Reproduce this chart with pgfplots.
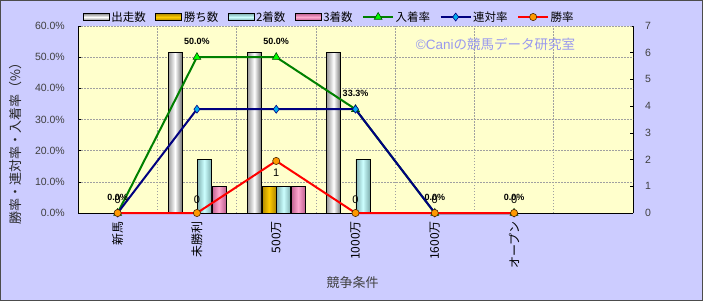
\documentclass[border=0pt]{standalone}
\usepackage{pgfplots}
\usepackage{pgfplotstable}
\pgfplotsset{compat=1.18}
\usepackage{fontspec}
\setmainfont{Liberation Sans}
\newfontfamily\jp{Noto Sans CJK JP}
\definecolor{bgout}{HTML}{CCCCFF}
\definecolor{bgin}{HTML}{FFFFCC}
\definecolor{wm}{HTML}{9999EE}
\definecolor{gold}{HTML}{FFCC00}
\definecolor{golddk}{HTML}{B08800}
\definecolor{aqua}{HTML}{CCFFFF}
\definecolor{aquadk}{HTML}{80B0B0}
\definecolor{pinkb}{HTML}{FFA8D0}
\definecolor{pinkdk}{HTML}{C06090}
\definecolor{lgreen}{HTML}{008000}
\definecolor{lnavy}{HTML}{000080}
\definecolor{mkorange}{HTML}{FF9900}
\definecolor{gridc}{HTML}{A0A0A0}
\definecolor{txt}{HTML}{404040}
\pgfplotsset{
  /pgf/number format/assume math mode=true,
  barleg/.style={legend image code/.code={\draw[##1] (0bp,-3.5bp) rectangle (26bp,3.5bp);}},
  lineleg/.style={legend image code/.code={\draw[mark repeat=2,mark phase=2,##1] plot coordinates {(0bp,0bp) (15bp,0bp) (30bp,0bp)};}},
  runsbar/.style={ybar, bar width=14bp, bar shift=-21.9bp, draw=black, line width=0.6bp,
    left color=black!40, right color=black!55, middle color=white},
  winsbar/.style={ybar, bar width=14bp, bar shift=-7.3bp, draw=black, line width=0.6bp,
    left color=golddk, right color=golddk, middle color=gold},
  secbar/.style={ybar, bar width=14bp, bar shift=7.3bp, draw=black, line width=0.6bp,
    left color=aquadk, right color=aquadk, middle color=aqua},
  thirdbar/.style={ybar, bar width=14bp, bar shift=21.9bp, draw=black, line width=0.6bp,
    left color=pinkdk, right color=pinkdk, middle color=pinkb},
}
\pgfplotstableread{
x runs wins second third
0 0 0 0 0
1 6 0 2 1
2 6 1 1 1
3 6 0 2 0
4 0 0 0 0
5 0 0 0 0
}\counts
\pgfplotstableread{
x win rentai nyuchaku
0 0 0 0
1 0 33.3 50.0
2 16.7 33.3 50.0
3 0 33.3 33.3
4 0 0 0
5 0 0 0
}\rates
\begin{document}
\begin{tikzpicture}[x=1bp,y=1bp]
\useasboundingbox (0,0) rectangle (703,301);
\fill[bgout] (0,0) rectangle (703,301);
\draw[black!70, line width=1bp] (0.5,0.5) rectangle (702.5,300.5);
% ---------- bars, right axis ----------
\begin{axis}[
  at={(78bp,88bp)}, anchor=south west, scale only axis,
  width=555bp, height=187bp,
  xmin=-0.5, xmax=6.5, ymin=0, ymax=7,
  axis background/.style={fill=bgin},
  axis x line*=bottom, axis y line*=right,
  axis line style={black, line width=0.8bp},
  xtick={0.5,1.5,...,5.5}, xticklabels={}, xmajorgrids,
  x tick style={draw=none},
  ytick={0,...,7},
  y tick style={black, line width=0.6bp},
  tick align=inside, major tick length=3bp,
  extra y ticks={1.16667,2.33333,3.5,4.66667,5.83333,7},
  extra y tick labels={},
  extra y tick style={grid=major, tick style={draw=none}},
  grid style={gridc, dash pattern=on 1.5bp off 1.5bp, line width=0.5bp},
  yticklabel style={font=\fontsize{10.5bp}{12bp}\selectfont, text=txt, anchor=west, inner sep=0pt, xshift=12bp},
]
\pgfplotsinvokeforeach{0,...,5}{
  \addplot[runsbar, forget plot, restrict x to domain=#1:#1] table[x=x,y=runs]{\counts};
  \addplot[winsbar, forget plot, restrict x to domain=#1:#1,
    nodes near coords,
    every node near coord/.append style={font=\fontsize{11bp}{12bp}\selectfont, text=black, anchor=south, inner sep=0pt, yshift=9bp}]
    table[x=x,y=wins]{\counts};
  \addplot[secbar, forget plot, restrict x to domain=#1:#1] table[x=x,y=second]{\counts};
  \addplot[thirdbar, forget plot, restrict x to domain=#1:#1] table[x=x,y=third]{\counts};
}
\node[text=wm, font=\jp\fontsize{13.5bp}{15bp}\selectfont] at (axis cs:4.765,6.33) {{\rmfamily ©Cani}の競馬データ研究室};
\node[rotate=90, anchor=center, font=\jp\fontsize{12.5bp}{14bp}\selectfont, text=black!85]
  at ([xshift=47bp]axis description cs:1,0.41) {出走数・勝ち数・2着数・3着数};
\end{axis}
% ---------- lines, left axis ----------
\begin{axis}[
  at={(78bp,88bp)}, anchor=south west, scale only axis,
  width=555bp, height=187bp,
  xmin=-0.5, xmax=6.5, ymin=0, ymax=60,
  axis x line*=bottom, axis y line*=left,
  axis line style={black, line width=0.8bp},
  xtick={0,...,5},
  xticklabels={新馬,未勝利,500万,1000万,1600万,オープン},
  x tick style={draw=none},
  xticklabel style={font=\jp\fontsize{12bp}{14bp}\selectfont, text=black, yshift=-8bp, rotate=90, anchor=east, inner sep=0pt},
  ytick={0,10,...,60},
  yticklabel={\pgfmathprintnumber[fixed,fixed zerofill,precision=1]{\tick}\%},
  yticklabel style={font=\fontsize{10.5bp}{12bp}\selectfont, text=txt, anchor=east, inner sep=0pt, xshift=-13bp},
  y tick style={black, line width=0.6bp},
  tick align=inside, major tick length=3bp,
  clip=false,
  legend columns=-1,
  legend cell align=left,
  legend style={at={(axis description cs:0.009,1.048)}, anchor=west, draw=none, fill=none,
    font=\jp\fontsize{11.5bp}{13bp}\selectfont, inner sep=0pt, nodes={inner sep=1.5bp},
    /tikz/every even column/.append style={column sep=8bp}},
]
\addlegendimage{barleg, draw=black, line width=0.8bp, top color=black!45, bottom color=black!45, middle color=white}
\addlegendentry{出走数}
\addlegendimage{barleg, draw=black, line width=0.8bp, top color=golddk, bottom color=golddk, middle color=gold}
\addlegendentry{勝ち数}
\addlegendimage{barleg, draw=black, line width=0.8bp, top color=aquadk, bottom color=aquadk, middle color=aqua}
\addlegendentry{2着数}
\addlegendimage{barleg, draw=black, line width=0.8bp, top color=pinkdk, bottom color=pinkdk, middle color=pinkb}
\addlegendentry{3着数}
\addplot[lineleg, lgreen, line width=2bp, mark=triangle*, mark size=4.5bp,
  mark options={fill=green, draw=lgreen!60!black, line width=0.6bp},
  nodes near coords={\pgfmathprintnumber[fixed,fixed zerofill,precision=1]{\pgfplotspointmeta}\%},
  every node near coord/.append style={font=\bfseries\fontsize{9bp}{10bp}\selectfont, text=black, anchor=south, inner sep=0pt, yshift=12bp}]
  table[x=x,y=nyuchaku]{\rates};
\addlegendentry{入着率}
\addplot[lineleg, lnavy, line width=2bp, mark=diamond*, mark size=4bp,
  mark options={fill=cyan, draw=lnavy, line width=0.6bp}]
  table[x=x,y=rentai]{\rates};
\addlegendentry{連対率}
\addplot[lineleg, red, line width=2bp, mark=*, mark size=3.6bp,
  mark options={fill=mkorange, draw=black!70!orange, line width=0.6bp}]
  table[x=x,y=win]{\rates};
\addlegendentry{勝率}
\node[anchor=center, font=\jp\fontsize{13bp}{15bp}\selectfont, text=txt]
  at ([yshift=-70bp]axis description cs:0.495,0) {競争条件};
\node[rotate=90, anchor=center, font=\jp\fontsize{13bp}{15bp}\selectfont, text=black!85]
  at ([xshift=-62bp]axis description cs:0,0.39) {勝率・連対率・入着率（\%）};
\end{axis}
\end{tikzpicture}
\end{document}
